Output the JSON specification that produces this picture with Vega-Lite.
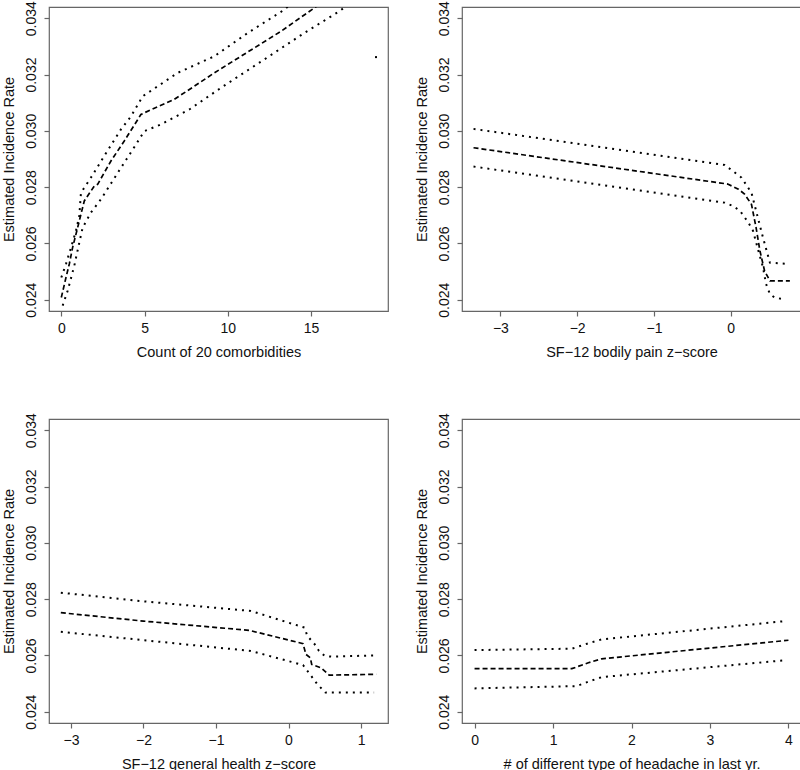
{
  "$schema": "https://vega.github.io/schema/vega-lite/v6.json",
  "padding": {"left": 0, "top": 0, "right": 0, "bottom": 0},
  "background": "white",
  "bounds": "flush",
  "spacing": {"row": 108, "column": 74},
  "columns": 2,
  "config": {
    "view": {"stroke": "#666", "strokeWidth": 1.2},
    "axis": {"domain": false, "grid": false, "tickColor": "#666", "tickSize": 5, "tickWidth": 1.2,
      "labelFont": "Liberation Sans", "labelFontSize": 14, "labelColor": "#111",
      "titleFont": "Liberation Sans", "titleFontSize": 14.5, "titleFontWeight": "normal", "titleColor": "#111"},
    "axisY": {"labelAngle": 270, "labelAlign": "center", "labelBaseline": "bottom", "labelPadding": 6, "titlePadding": 8},
    "axisX": {"labelPadding": 5, "titlePadding": 10, "labelFlush": false, "labelOverlap": false},
    "line": {"color": "black", "strokeWidth": 1.7}
  },
  "datasets": {
    "tl": [
      {"s": "est", "x": 0, "y": 0.02408}, {"s": "est", "x": 0.28, "y": 0.02479}, {"s": "est", "x": 0.48, "y": 0.02527},
      {"s": "est", "x": 0.68, "y": 0.02586}, {"s": "est", "x": 0.98, "y": 0.02656}, {"s": "est", "x": 1.18, "y": 0.02704},
      {"s": "est", "x": 1.38, "y": 0.02751}, {"s": "est", "x": 1.98, "y": 0.02804}, {"s": "est", "x": 2.18, "y": 0.0281},
      {"s": "est", "x": 2.98, "y": 0.02893}, {"s": "est", "x": 3.78, "y": 0.02964}, {"s": "est", "x": 4.78, "y": 0.03058},
      {"s": "est", "x": 4.98, "y": 0.03064}, {"s": "est", "x": 6.78, "y": 0.03112}, {"s": "est", "x": 7.69, "y": 0.03147},
      {"s": "est", "x": 9.19, "y": 0.03206}, {"s": "est", "x": 10.79, "y": 0.03265}, {"s": "est", "x": 13.2, "y": 0.03354},
      {"s": "est", "x": 15.2, "y": 0.03437}, {"s": "est", "x": 16.0, "y": 0.0347},
      {"s": "hi", "x": 0, "y": 0.02479}, {"s": "hi", "x": 0.28, "y": 0.02527}, {"s": "hi", "x": 0.58, "y": 0.02585},
      {"s": "hi", "x": 0.88, "y": 0.02645}, {"s": "hi", "x": 1.08, "y": 0.02698}, {"s": "hi", "x": 1.18, "y": 0.0278},
      {"s": "hi", "x": 1.78, "y": 0.02834}, {"s": "hi", "x": 2.58, "y": 0.02911}, {"s": "hi", "x": 3.58, "y": 0.03005},
      {"s": "hi", "x": 4.19, "y": 0.03052}, {"s": "hi", "x": 4.89, "y": 0.03123}, {"s": "hi", "x": 6.99, "y": 0.03206},
      {"s": "hi", "x": 9.19, "y": 0.03265}, {"s": "hi", "x": 11.2, "y": 0.03348}, {"s": "hi", "x": 13.3, "y": 0.03427},
      {"s": "hi", "x": 14.0, "y": 0.0346},
      {"s": "lo", "x": 0.08, "y": 0.02379}, {"s": "lo", "x": 0.38, "y": 0.02432}, {"s": "lo", "x": 0.78, "y": 0.02521},
      {"s": "lo", "x": 1.08, "y": 0.02603}, {"s": "lo", "x": 1.28, "y": 0.02656}, {"s": "lo", "x": 1.78, "y": 0.0271},
      {"s": "lo", "x": 2.38, "y": 0.02757}, {"s": "lo", "x": 3.39, "y": 0.02851}, {"s": "lo", "x": 4.49, "y": 0.02952},
      {"s": "lo", "x": 4.98, "y": 0.02999}, {"s": "lo", "x": 5.99, "y": 0.03023}, {"s": "lo", "x": 7.69, "y": 0.03076},
      {"s": "lo", "x": 9.59, "y": 0.03153}, {"s": "lo", "x": 12.2, "y": 0.03254}, {"s": "lo", "x": 14.6, "y": 0.03348},
      {"s": "lo", "x": 16.7, "y": 0.03425}, {"s": "lo", "x": 17.5, "y": 0.0346},
      {"s": "pt", "x": 18.9, "y": 0.03262}
    ],
    "tr": [
      {"s": "hi", "x": -3.35, "y": 0.03007}, {"s": "hi", "x": -0.08, "y": 0.02879}, {"s": "hi", "x": 0.14, "y": 0.02834},
      {"s": "hi", "x": 0.27, "y": 0.0278}, {"s": "hi", "x": 0.33, "y": 0.02716}, {"s": "hi", "x": 0.42, "y": 0.02621},
      {"s": "hi", "x": 0.51, "y": 0.02532}, {"s": "hi", "x": 0.75, "y": 0.02527},
      {"s": "est", "x": -3.35, "y": 0.0294}, {"s": "est", "x": -0.04, "y": 0.02811}, {"s": "est", "x": 0.1, "y": 0.02793},
      {"s": "est", "x": 0.18, "y": 0.02775}, {"s": "est", "x": 0.27, "y": 0.02739}, {"s": "est", "x": 0.33, "y": 0.02656},
      {"s": "est", "x": 0.38, "y": 0.02574}, {"s": "est", "x": 0.44, "y": 0.02503}, {"s": "est", "x": 0.51, "y": 0.02467},
      {"s": "est", "x": 0.77, "y": 0.02467},
      {"s": "lo", "x": -3.35, "y": 0.02873}, {"s": "lo", "x": -0.08, "y": 0.02745}, {"s": "lo", "x": 0.03, "y": 0.02733},
      {"s": "lo", "x": 0.12, "y": 0.02716}, {"s": "lo", "x": 0.23, "y": 0.02674}, {"s": "lo", "x": 0.29, "y": 0.02645},
      {"s": "lo", "x": 0.36, "y": 0.02574}, {"s": "lo", "x": 0.42, "y": 0.02515}, {"s": "lo", "x": 0.46, "y": 0.02456},
      {"s": "lo", "x": 0.51, "y": 0.0242}, {"s": "lo", "x": 0.57, "y": 0.02408}, {"s": "lo", "x": 0.68, "y": 0.02402}
    ],
    "bl": [
      {"s": "hi", "x": -3.14, "y": 0.02823}, {"s": "hi", "x": -2.03, "y": 0.02793}, {"s": "hi", "x": -0.52, "y": 0.02758},
      {"s": "hi", "x": 0.22, "y": 0.02699}, {"s": "hi", "x": 0.26, "y": 0.02669}, {"s": "hi", "x": 0.36, "y": 0.0264},
      {"s": "hi", "x": 0.42, "y": 0.02616}, {"s": "hi", "x": 0.5, "y": 0.02598}, {"s": "hi", "x": 0.59, "y": 0.02596},
      {"s": "hi", "x": 1.18, "y": 0.026},
      {"s": "est", "x": -3.14, "y": 0.02752}, {"s": "est", "x": -2.0, "y": 0.02722}, {"s": "est", "x": -0.54, "y": 0.02689},
      {"s": "est", "x": 0.2, "y": 0.02642}, {"s": "est", "x": 0.24, "y": 0.02604}, {"s": "est", "x": 0.3, "y": 0.02592},
      {"s": "est", "x": 0.32, "y": 0.02568}, {"s": "est", "x": 0.45, "y": 0.02556}, {"s": "est", "x": 0.56, "y": 0.0253},
      {"s": "est", "x": 1.21, "y": 0.02533},
      {"s": "lo", "x": -3.14, "y": 0.02684}, {"s": "lo", "x": -2.03, "y": 0.02655}, {"s": "lo", "x": -0.52, "y": 0.02616},
      {"s": "lo", "x": 0.2, "y": 0.02566}, {"s": "lo", "x": 0.4, "y": 0.02497}, {"s": "lo", "x": 0.51, "y": 0.02468},
      {"s": "lo", "x": 1.18, "y": 0.02468}
    ],
    "br": [
      {"s": "hi", "x": 0, "y": 0.02619}, {"s": "hi", "x": 1.24, "y": 0.02624}, {"s": "hi", "x": 1.45, "y": 0.02643},
      {"s": "hi", "x": 1.62, "y": 0.02657}, {"s": "hi", "x": 3.96, "y": 0.02722},
      {"s": "est", "x": 0, "y": 0.02553}, {"s": "est", "x": 1.24, "y": 0.02553}, {"s": "est", "x": 1.45, "y": 0.02574},
      {"s": "est", "x": 1.62, "y": 0.02588}, {"s": "est", "x": 4.0, "y": 0.02654},
      {"s": "lo", "x": 0, "y": 0.02483}, {"s": "lo", "x": 1.3, "y": 0.02491}, {"s": "lo", "x": 1.45, "y": 0.02507},
      {"s": "lo", "x": 1.62, "y": 0.02523}, {"s": "lo", "x": 3.96, "y": 0.02583}
    ]
  },
  "concat": [
    {
      "width": 339, "height": 304,
      "data": {"name": "tl"},
      "encoding": {
        "x": {"field": "x", "type": "quantitative", "scale": {"domain": [-0.74, 19.62], "nice": false, "zero": false},
          "axis": {"title": "Count of 20 comorbidities", "values": [0, 5, 10, 15]}},
        "y": {"field": "y", "type": "quantitative", "scale": {"domain": [0.0236, 0.0344], "nice": false, "zero": false},
          "axis": {"title": "Estimated Incidence Rate", "values": [0.024, 0.026, 0.028, 0.03, 0.032, 0.034], "format": ".3f"}}
      },
      "layer": [
        {"transform": [{"filter": "datum.s == 'est'"}], "mark": {"type": "line", "strokeDash": [5, 3], "clip": true}},
        {"transform": [{"filter": "datum.s == 'hi' || datum.s == 'lo'"}], "mark": {"type": "line", "strokeDash": [2, 5], "strokeWidth": 2, "clip": true},
          "encoding": {"detail": {"field": "s"}}},
        {"transform": [{"filter": "datum.s == 'pt'"}], "mark": {"type": "square", "color": "black", "opacity": 1, "size": 4, "clip": true}}
      ]
    },
    {
      "width": 339, "height": 304,
      "data": {"name": "tr"},
      "encoding": {
        "x": {"field": "x", "type": "quantitative", "scale": {"domain": [-3.5, 0.915], "nice": false, "zero": false},
          "axis": {"title": "SF−12 bodily pain z−score", "values": [-3, -2, -1, 0]}},
        "y": {"field": "y", "type": "quantitative", "scale": {"domain": [0.0236, 0.0344], "nice": false, "zero": false},
          "axis": {"title": "Estimated Incidence Rate", "values": [0.024, 0.026, 0.028, 0.03, 0.032, 0.034], "format": ".3f"}}
      },
      "layer": [
        {"transform": [{"filter": "datum.s == 'est'"}], "mark": {"type": "line", "strokeDash": [5, 3], "clip": true}},
        {"transform": [{"filter": "datum.s != 'est'"}], "mark": {"type": "line", "strokeDash": [2, 5], "strokeWidth": 2, "clip": true},
          "encoding": {"detail": {"field": "s"}}}
      ]
    },
    {
      "width": 339, "height": 304,
      "data": {"name": "bl"},
      "encoding": {
        "x": {"field": "x", "type": "quantitative", "scale": {"domain": [-3.303, 1.372], "nice": false, "zero": false},
          "axis": {"title": "SF−12 general health z−score", "values": [-3, -2, -1, 0, 1]}},
        "y": {"field": "y", "type": "quantitative", "scale": {"domain": [0.0236, 0.0344], "nice": false, "zero": false},
          "axis": {"title": "Estimated Incidence Rate", "values": [0.024, 0.026, 0.028, 0.03, 0.032, 0.034], "format": ".3f"}}
      },
      "layer": [
        {"transform": [{"filter": "datum.s == 'est'"}], "mark": {"type": "line", "strokeDash": [5, 3], "clip": true}},
        {"transform": [{"filter": "datum.s != 'est'"}], "mark": {"type": "line", "strokeDash": [2, 5], "strokeWidth": 2, "clip": true},
          "encoding": {"detail": {"field": "s"}}}
      ]
    },
    {
      "width": 339, "height": 304,
      "data": {"name": "br"},
      "encoding": {
        "x": {"field": "x", "type": "quantitative", "scale": {"domain": [-0.16, 4.16], "nice": false, "zero": false},
          "axis": {"title": "# of different type of headache in last yr.", "values": [0, 1, 2, 3, 4]}},
        "y": {"field": "y", "type": "quantitative", "scale": {"domain": [0.0236, 0.0344], "nice": false, "zero": false},
          "axis": {"title": "Estimated Incidence Rate", "values": [0.024, 0.026, 0.028, 0.03, 0.032, 0.034], "format": ".3f"}}
      },
      "layer": [
        {"transform": [{"filter": "datum.s == 'est'"}], "mark": {"type": "line", "strokeDash": [5, 3], "clip": true}},
        {"transform": [{"filter": "datum.s != 'est'"}], "mark": {"type": "line", "strokeDash": [2, 5], "strokeWidth": 2, "clip": true},
          "encoding": {"detail": {"field": "s"}}}
      ]
    }
  ]
}
